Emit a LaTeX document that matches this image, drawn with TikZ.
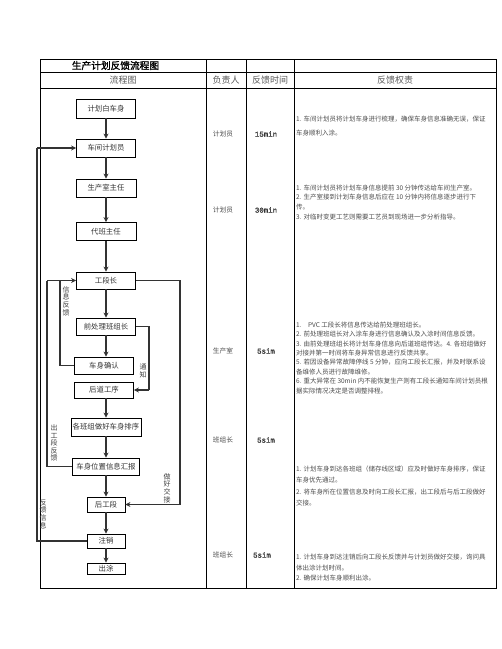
\documentclass[tikz,border=0pt]{standalone}
\usepackage{fontspec}
\usepackage{xcolor}
\usepackage{tikz}
\usetikzlibrary{positioning,calc,arrows.meta}
\newfontfamily\cjk{Noto Sans CJK SC}
\newfontfamily\cjkbold[FakeBold=1.5]{Noto Sans CJK SC}
\newfontfamily\monofont[FakeBold=1]{Liberation Mono}

\begin{document}
\begin{tikzpicture}[x=1pt,y=-1pt,
    flowbox/.style={draw, line width=0.8pt, inner sep=0pt, font=\cjk\fontsize{7.4}{8}\selectfont, text=black!80},
    flowline/.style={line width=1.3pt, draw=black!80, -{Stealth[length=5pt,width=5pt]}},
    loopline/.style={line width=1.3pt, draw=black!80},
    sidelabel/.style={align=center, inner sep=0pt, font=\cjk\fontsize{7}{7.6}\selectfont, text=black!75},
    headtext/.style={font=\cjk\fontsize{9}{10}\selectfont, text=black!65},
    celltext/.style={font=\cjk\fontsize{6.7}{7}\selectfont, text=black!70},
    timetext/.style={font=\monofont\fontsize{7.4}{8}\selectfont, text=black!80},
    dutytext/.style={anchor=north west, align=left, inner sep=0pt, text=black!70}]
    \useasboundingbox (0,0) rectangle (502,649);

    % Table
    \draw [line width=1pt] (40,59) rectangle (496,588);
    \draw [line width=0.6pt] (40,72) -- (496,72);
    \draw [line width=0.6pt] (40,88) -- (496,88);
    \foreach \colx in {206,246,294}
        \draw [line width=0.8pt] (\colx,59) -- (\colx,588);

    % Header
    \node [font=\cjkbold\fontsize{9.7}{10}\selectfont] (title) at (115.5,65.5) {生产计划反馈流程图};
    \node [headtext] (hflow) at (123,80) {流程图};
    \node [headtext] (hwho) at (226,80) {负责人};
    \node [headtext] (htime) at (270,80) {反馈时间};
    \node [headtext] (hduty) at (395,80) {反馈权责};

    % Flow boxes
    \node [flowbox, minimum width=59, minimum height=19] (bcs) at (106,108.5) {计划白车身};
    \node [flowbox, minimum width=59, minimum height=18] (jhy) at (106,148) {车间计划员};
    \node [flowbox, minimum width=60, minimum height=18] (scs) at (106,188) {生产室主任};
    \node [flowbox, minimum width=60, minimum height=18] (dbzr) at (106,231.5) {代班主任};
    \node [flowbox, minimum width=59, minimum height=17] (gdz) at (106,280.5) {工段长};
    \node [flowbox, minimum width=59, minimum height=17] (qcl) at (106,326.5) {前处理班组长};
    \node [flowbox, minimum width=59, minimum height=17] (csqr) at (104,365.5) {车身确认};
    \node [flowbox, minimum width=59, minimum height=16] (hdgx) at (104,390) {后道工序};
    \node [flowbox, minimum width=70, minimum height=18] (px) at (106,427) {各班组做好车身排序};
    \node [flowbox, minimum width=67, minimum height=17] (hb) at (106,466.5) {车身位置信息汇报};
    \node [flowbox, minimum width=38, minimum height=15] (hgd) at (106,504.5) {后工段};
    \node [flowbox, minimum width=38, minimum height=14] (zx) at (106,541) {注销};
    \node [flowbox, minimum width=38, minimum height=11] (ct) at (106,568.5) {出涂};

    % Main flow
    \draw [flowline] (bcs) -- (jhy);
    \draw [flowline] (jhy) -- (scs);
    \draw [flowline] (scs) -- (dbzr);
    \draw [flowline] (dbzr) -- (gdz);
    \draw [flowline] (gdz) -- (qcl);
    \draw [flowline] (qcl.south) -- (qcl.south |- csqr.north);
    \draw [flowline] (hdgx.south -| px.north) -- (px.north);
    \draw [flowline] (px) -- (hb);
    \draw [flowline] (hb) -- (hgd);
    \draw [flowline] (hgd) -- (zx);
    \draw [flowline] (zx) -- (ct);

    % Feedback loops
    \coordinate (outerx) at (37,0);
    \coordinate (midx) at (47,0);
    \coordinate (innerx) at (60,0);
    \coordinate (tongx) at (149,0);
    \coordinate (jiaox) at (180,0);
    \draw [loopline] (zx.west) -- (zx.west -| outerx) -- (outerx |- jhy.west);
    \draw [flowline] (outerx |- jhy.west) -- (jhy.west);
    \draw [loopline] (hb.west) -- (hb.west -| midx) -- (midx |- gdz.west);
    \draw [flowline] (midx |- gdz.west) -- (gdz.west);
    \draw [loopline] (csqr.west) -- (csqr.west -| innerx) -- (innerx |- gdz.west);
    \draw [loopline] (qcl.east) -- (qcl.east -| tongx) -- (tongx |- hdgx.east);
    \draw [flowline] (tongx |- hdgx.east) -- (hdgx.east);
    \draw [loopline] (gdz.east) -- (gdz.east -| jiaox) -- (jiaox |- hgd.east);
    \draw [flowline] (jiaox |- hgd.east) -- (hgd.east);

    % Loop labels
    \node [sidelabel] (lxx) at (66,301) {信\\息\\反\\馈};
    \node [sidelabel] (lcgd) at (54,443) {出\\工\\段\\反\\馈};
    \node [sidelabel] (lfk) at (43,514) {反\\馈\\信\\息};
    \node [sidelabel] (ltz) at (143,371) {通\\知};
    \node [sidelabel] (ljj) at (167,488) {做\\好\\交\\接};

    % Who and time
    \node [celltext] (w1) at (223,134) {计划员};
    \node [celltext] (w2) at (223,210) {计划员};
    \node [celltext] (w3) at (223,351) {生产室};
    \node [celltext] (w4) at (223,440) {班组长};
    \node [celltext] (w5) at (223,555) {班组长};
    \node [timetext] (t1) at (266,134) {15min};
    \node [timetext] (t2) at (266,210) {30min};
    \node [timetext] (t3) at (266,351) {5sim};
    \node [timetext] (t4) at (266,440) {5sim};
    \node [timetext] (t5) at (262,555) {5sim};

    % Duties
    \node [dutytext, font=\cjk\fontsize{6.5}{14.3}\selectfont] (d1) at (296,115.5)
        {1. 车间计划员将计划车身进行梳理，确保车身信息准确无误，保证\\车身顺利入涂。};
    \node [dutytext, font=\cjk\fontsize{6.5}{9.7}\selectfont] (d2) at (296,184.5)
        {1. 车间计划员将计划车身信息提前 30 分钟传达给车间生产室。\\
         2. 生产室接到计划车身信息后应在 10 分钟内将信息逐步进行下\\
         传。\\
         3. 对临时变更工艺则需要工艺员到现场进一步分析指导。};
    \node [dutytext, font=\cjk\fontsize{6.5}{9.4}\selectfont] (d3) at (296,321.5)
        {1.\quad PVC 工段长将信息传达给前处理班组长。\\
         2. 前处理班组长对入涂车身进行信息确认及入涂时间信息反馈。\\
         3. 由前处理班组长将计划车身信息向后道班组传达。4. 各班组做好\\
         对接并第一时间将车身异常信息进行反馈共享。\\
         5. 若因设备异常故障停线 5 分钟，应向工段长汇报，并及时联系设\\
         备维修人员进行故障维修。\\
         6. 重大异常在 30min 内不能恢复生产则有工段长通知车间计划员根\\
         据实际情况决定是否调整排程。};
    \node [dutytext, font=\cjk\fontsize{6.5}{11.4}\selectfont] (d4) at (296,465.5)
        {1. 计划车身到达各班组（储存线区域）应及时做好车身排序，保证\\
         车身优先通过。\\
         2. 将车身所在位置信息及时向工段长汇报，出工段后与后工段做好\\
         交接。};
    \node [dutytext, font=\cjk\fontsize{6.5}{10.8}\selectfont] (d5) at (296,553.5)
        {1. 计划车身到达注销后向工段长反馈并与计划员做好交接，询问具\\
         体出涂计划时间。\\
         2. 确保计划车身顺利出涂。};
\end{tikzpicture}
\end{document}
